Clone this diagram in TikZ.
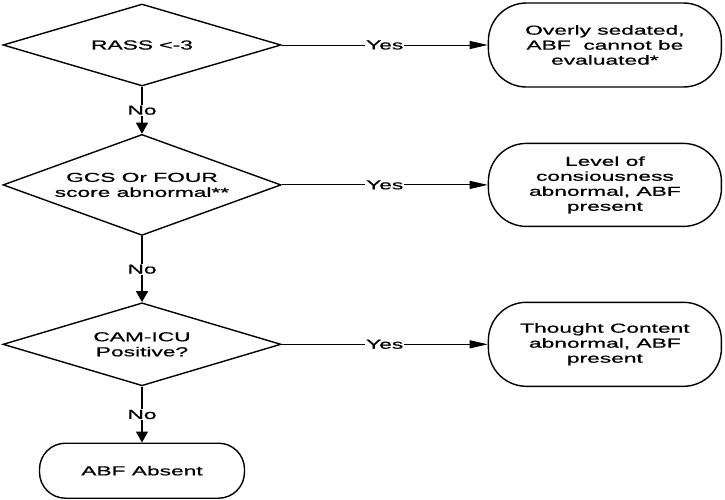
\documentclass[tikz,border=0pt]{standalone}
\usepackage{fontspec}
\setmainfont{Liberation Sans}[FakeStretch=1.75, FakeBold=0.8]
\usetikzlibrary{positioning, shapes.geometric, arrows.meta}

\begin{document}
\begin{tikzpicture}[
    node distance=0.2cm,
    font=\fontsize{13pt}{15pt}\selectfont,
    decision/.style={diamond, draw, line width=1.4pt, aspect=3.4,
                     minimum width=278pt, minimum height=82pt, inner sep=0pt, align=center},
    outcome/.style={rectangle, draw, line width=1.4pt, minimum width=233pt,
                    minimum height=84pt, rounded corners=38pt, align=center},
    yesline/.style={draw, line width=1pt, -{Triangle[length=18pt, width=8pt]}},
    noline/.style={draw, line width=1.4pt, -{Triangle[length=11pt, width=12pt]}},
    answer/.style={fill=white, inner sep=1pt},
  ]
    \useasboundingbox (0,0) rectangle (725pt,-499pt);

    \node[decision] (rass) at (142pt,-45pt) {RASS <-3};
    \node[decision, minimum height=101pt, below=47pt of rass] (gcs) {GCS Or FOUR\\score abnormal**};
    \node[decision, minimum height=83pt, below=66pt of gcs] (cam) {CAM-ICU\\Positive?};
    \node[outcome, minimum width=205pt, minimum height=55pt, rounded corners=26pt,
          below=56pt of cam] (absent) {ABF Absent};

    \node[outcome, right=206pt of rass] (sedated) {Overly sedated,\\ABF~ cannot be\\evaluated*};
    \node[outcome, minimum height=83pt, right=206pt of gcs] (level) {Level of\\consiousness\\abnormal, ABF\\present};
    \node[outcome, right=206pt of cam] (thought) {Thought Content\\abnormal, ABF\\present};

    \draw[yesline] (rass) -- node[answer] {Yes} (sedated);
    \draw[yesline] (gcs) -- node[answer] {Yes} (level);
    \draw[yesline] (cam) -- node[answer] {Yes} (thought);

    \draw[noline] (rass) -- node[answer] {No} (gcs);
    \draw[noline] (gcs) -- node[answer] {No} (cam);
    \draw[noline] (cam) -- node[answer] {No} (absent);
  \end{tikzpicture}
\end{document}
